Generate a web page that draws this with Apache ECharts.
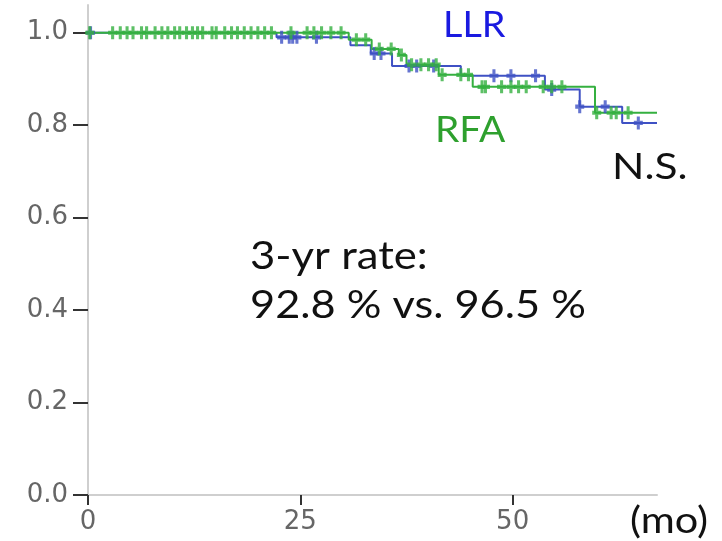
<!DOCTYPE html>
<html>
<head>
<meta charset="utf-8">
<script src="https://cdn.jsdelivr.net/npm/echarts@6/dist/echarts.min.js"></script>
<style>
  html, body { margin: 0; padding: 0; background: #ffffff; }
  #chart { width: 722px; height: 541px; }
</style>
</head>
<body>
<div id="chart"></div>
<script>
// Kaplan–Meier estimates: event times (months) and survival after each event.
const llrTimes = [0, 22.2, 30.9, 33.3, 35.8, 43.9, 53.8, 57.9, 62.9, 67];
const llrSurv  = [1.0, 0.990, 0.973, 0.955, 0.928, 0.907, 0.877, 0.840, 0.805, 0.805];
const rfaTimes = [0, 30.7, 33.4, 36.6, 37.5, 41.3, 45.3, 59.7, 67];
const rfaSurv  = [1.0, 0.985, 0.965, 0.952, 0.931, 0.909, 0.883, 0.827, 0.827];

// Censored observations (months).
const llrCensor = [0.3, 22.8, 23.7, 24.1, 24.6, 26.9, 33.7, 34.5, 37.8, 38.7, 40.7,
                   47.8, 49.8, 52.7, 54.6, 57.9, 60.9, 64.8];
const rfaCensor = [0.2, 2.9, 3.8, 4.6, 5.3, 6.3, 6.9, 7.9, 8.7, 9.4, 10.2, 10.8, 11.6,
                   12.3, 12.9, 13.5, 14.6, 15.1, 16.1, 16.9, 17.6, 18.4, 19.2, 20.0,
                   20.8, 21.6, 23.9, 25.8, 26.6, 27.5, 28.6, 29.8, 31.6, 32.7, 34.3,
                   35.7, 36.9, 38.1, 39.2, 40.1, 41.0, 41.7, 43.9, 44.8, 46.4, 46.8,
                   48.7, 49.8, 50.7, 51.6, 53.6, 54.6, 55.8, 59.9, 61.6, 62.2, 63.6];

const yTicks = [0, 0.2, 0.4, 0.6, 0.8, 1.0];
const xTicks = [0, 25, 50];

const LLR_COLOR = '#3f51c4';
const RFA_COLOR = '#35b040';

// Survival value of a step curve at time t.
function survAt(times, surv, t) {
  let s = surv[0];
  for (let i = 0; i < times.length; i++) {
    if (times[i] <= t) s = surv[i];
  }
  return s;
}

const stepData = (times, surv) => times.map((t, i) => [t, surv[i]]);
const censorData = (times, surv, cens) => cens.map(t => [t, survAt(times, surv, t)]);

const PLUS = 'path://M3.3,0H6.7V3.4H10V6.6H6.7V10H3.3V6.6H0V3.4H3.3Z';
const axisFont = 'DejaVu Sans';
const noteFont = 'Lato';

// Annotation text, widened slightly to the proportions of the slide typeface.
function note(text, left, top, size, color, sx) {
  return {
    type: 'text', x: left, y: top, scaleX: sx,
    style: { text: text, font: size + 'px ' + noteFont, fill: color }
  };
}

const chart = echarts.init(document.getElementById('chart'), null, { renderer: 'canvas' });

chart.setOption({
  animation: false,
  backgroundColor: '#ffffff',
  grid: { left: 88, right: 65, top: 5, bottom: 46, containLabel: false },
  xAxis: {
    type: 'value',
    min: 0,
    max: 67,
    axisLine: { show: true, lineStyle: { color: '#cfcfcf', width: 2 } },
    axisTick: { show: true, customValues: xTicks, length: 10, lineStyle: { color: '#333333', width: 2 } },
    axisLabel: {
      customValues: xTicks, fontSize: 26, color: '#666666', margin: 14,
      fontFamily: axisFont
    },
    splitLine: { show: false }
  },
  yAxis: {
    type: 'value',
    min: 0,
    max: 1.06,
    axisLine: { show: true, lineStyle: { color: '#cfcfcf', width: 2 } },
    axisTick: { show: true, customValues: yTicks, length: 15, lineStyle: { color: '#333333', width: 2 } },
    axisLabel: {
      customValues: yTicks, fontSize: 26, color: '#666666', margin: 20,
      fontFamily: axisFont, formatter: v => v.toFixed(1)
    },
    splitLine: { show: false }
  },
  series: [
    {
      name: 'LLR', type: 'line', step: 'end', showSymbol: false,
      data: stepData(llrTimes, llrSurv),
      lineStyle: { color: LLR_COLOR, width: 2 }, z: 2
    },
    {
      name: 'RFA', type: 'line', step: 'end', showSymbol: false,
      data: stepData(rfaTimes, rfaSurv),
      lineStyle: { color: RFA_COLOR, width: 2 }, z: 3
    },
    {
      name: 'LLR censored', type: 'scatter', symbol: PLUS, symbolSize: [9, 13],
      data: censorData(llrTimes, llrSurv, llrCensor),
      itemStyle: { color: LLR_COLOR }, z: 4
    },
    {
      name: 'RFA censored', type: 'scatter', symbol: PLUS, symbolSize: [9, 13],
      data: censorData(rfaTimes, rfaSurv, rfaCensor),
      itemStyle: { color: RFA_COLOR }, z: 5
    }
  ],
  graphic: [
    note('LLR', 443, 7, 36, '#1a1ae0', 1.05),
    note('RFA', 435, 112, 36, '#2ea02e', 1.08),
    note('N.S.', 612, 149, 36, '#111111', 1.18),
    note('3-yr rate:', 250, 238, 38, '#111111', 1.15),
    note('92.8 % vs. 96.5 %', 250, 287, 38, '#111111', 1.14),
    note('(mo)', 630, 503, 36, '#111111', 1.15)
  ]
});
</script>
</body>
</html>
